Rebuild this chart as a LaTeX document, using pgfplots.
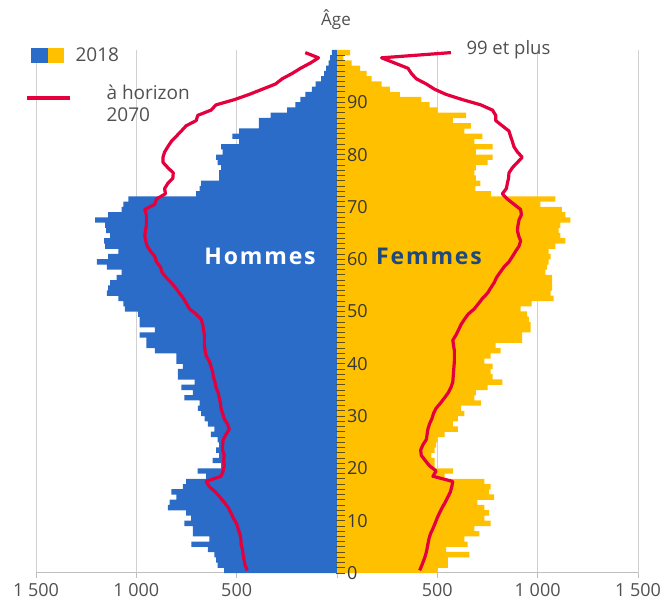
\documentclass[border=0pt]{standalone}
\usepackage{fontspec}
\setmainfont{Open Sans}
\usepackage{pgfplots}
\usepackage{pgfplotstable}
\pgfplotsset{compat=1.18}
\definecolor{hblue}{RGB}{42,108,200}
\definecolor{fyellow}{RGB}{255,192,0}
\definecolor{pred}{RGB}{228,0,60}
\definecolor{fnavy}{RGB}{30,72,128}
\definecolor{txtgray}{RGB}{80,80,80}
\definecolor{tickc}{RGB}{95,80,35}
\pgfplotstableread{
y m f m70 f70
0.5 -562 502 -447 412
1.5 -595 553 -458 423
2.5 -603 553 -463 433
3.5 -611 660 -468 442
4.5 -644 544 -471 448
5.5 -726 651 -478 453
6.5 -636 635 -479 458
7.5 -718 709 -484 466
8.5 -718 684 -493 478
9.5 -760 766 -501 489
10.5 -727 734 -517 499
11.5 -752 758 -529 511
12.5 -843 734 -542 524
13.5 -834 700 -562 539
14.5 -801 783 -583 552
15.5 -826 758 -606 565
16.5 -768 766 -636 572
17.5 -752 734 -652 577
18.5 -652 536 -578 478
19.5 -694 577 -567 494
20.5 -578 486 -562 461
21.5 -620 486 -565 440
22.5 -587 470 -562 420
23.5 -603 486 -570 417
24.5 -587 494 -570 428
25.5 -595 502 -567 445
26.5 -628 536 -553 449
27.5 -611 602 -537 453
28.5 -644 577 -546 461
29.5 -660 602 -562 473
30.5 -677 635 -570 481
31.5 -693 618 -578 494
32.5 -685 717 -581 516
33.5 -760 684 -587 536
34.5 -718 692 -592 555
35.5 -776 750 -603 568
36.5 -710 824 -608 577
37.5 -793 775 -616 579
38.5 -793 766 -620 581
39.5 -768 775 -628 583
40.5 -801 734 -636 585
41.5 -801 766 -652 585
42.5 -908 816 -657 585
43.5 -950 791 -661 581
44.5 -950 923 -661 577
45.5 -983 923 -661 593
46.5 -908 965 -665 606
47.5 -983 965 -669 618
48.5 -983 956 -677 635
49.5 -991 948 -702 654
50.5 -1057 915 -735 684
51.5 -1065 970 -750 705
52.5 -1090 1080 -765 725
53.5 -1147 1064 -785 750
54.5 -1140 1072 -804 766
55.5 -1131 1072 -826 783
56.5 -1098 1072 -851 795
57.5 -1073 1039 -872 813
58.5 -1147 1047 -880 832
59.5 -1197 1055 -900 857
60.5 -1140 1064 -908 874
61.5 -1090 1055 -929 890
62.5 -1156 1088 -946 907
63.5 -1160 1138 -953 915
64.5 -1130 1113 -958 905
65.5 -1150 1105 -954 899
66.5 -1156 1113 -950 902
67.5 -1205 1163 -950 907
68.5 -1140 1138 -950 919
69.5 -1073 1121 -958 915
70.5 -1065 1014 -908 882
71.5 -1040 1088 -900 849
72.5 -702 768 -855 824
73.5 -685 690 -859 844
74.5 -677 714 -843 849
75.5 -587 692 -818 855
76.5 -587 684 -816 857
77.5 -578 692 -843 874
78.5 -595 750 -867 899
79.5 -603 775 -867 923
80.5 -570 692 -859 899
81.5 -578 775 -843 882
82.5 -488 684 -826 874
83.5 -521 725 -801 865
84.5 -488 635 -776 857
85.5 -389 667 -752 824
86.5 -389 577 -702 791
87.5 -331 643 -694 791
88.5 -248 502 -628 775
89.5 -207 461 -603 717
90.5 -183 420 -512 626
91.5 -158 313 -438 544
92.5 -125 263 -372 486
93.5 -106 222 -306 445
94.5 -79 173 -273 395
95.5 -64 148 -224 371
96.5 -54 115 -182 354
97.5 -42 73 -133 288
98.5 -34 32 -92 222
99.5 -26 65 -158 568
}\pyr
\begin{document}
\begin{tikzpicture}[x=1pt,y=1pt]
\useasboundingbox (0,0) rectangle (666,601);
\begin{axis}[at={(36pt,28pt)}, anchor=south west, scale only axis,
  width=602pt, height=523pt,
  xmin=-1500, xmax=1500, ymin=0, ymax=100,
  axis x line=bottom, axis y line=none,
  x axis line style={-, draw=black!25, line width=1pt},
  xtick={-1500,-1000,-500,0,500,1000,1500},
  xticklabels={1 500,1 000,500,,500,1 000,1 500},
  xtick align=outside, major tick length=5pt,
  x tick style={draw=black!25, line width=1pt},
  xmajorgrids, grid style={draw=black!18, line width=1pt},
  xticklabel style={font=\fontsize{18}{20}\selectfont, text=txtgray, yshift=-2pt},
  clip=false]
\addplot[xbar, bar shift=0pt, bar width=1.03, fill=hblue, draw=none] table[x=m, y=y] {\pyr};
\addplot[xbar, bar shift=0pt, bar width=1.03, fill=fyellow, draw=none] table[x=f, y=y] {\pyr};
\addplot[pred, line width=3.2pt, line join=round] table[x=m70, y=y] {\pyr};
\addplot[pred, line width=3.2pt, line join=round] table[x=f70, y=y] {\pyr};
\end{axis}
\begin{axis}[at={(36pt,28pt)}, anchor=south west, scale only axis,
  width=300pt, height=523pt,
  xmin=-1500, xmax=0, ymin=0, ymax=100,
  axis x line=none, axis y line=right,
  y axis line style={-, draw=none},
  ytick={0,10,...,90}, minor ytick={1,...,99},
  ytick align=outside, major tick length=9pt, minor tick length=9pt,
  y tick style={draw=tickc, line width=0.8pt},
  every minor tick/.append style={draw=tickc, line width=0.8pt},
  yticklabel style={font=\fontsize{18}{20}\selectfont, text=black!78, anchor=west, xshift=-1.5pt},
  /pgf/number format/assume math mode=true,
  clip=false]
\addplot[draw=none] coordinates {(0,0)};
\end{axis}
% titles and legend
\node[text=txtgray, font=\fontsize{17}{20}\selectfont] at (336,581) {Âge};
\node[text=txtgray, font=\fontsize{18.5}{20}\selectfont, anchor=west] at (463,551) {99 et plus};
\node[text=white, font=\bfseries\fontsize{23}{26}\selectfont\addfontfeatures{LetterSpace=8}] at (260,345) {Hommes};
\node[text=fnavy, font=\bfseries\fontsize{23}{26}\selectfont\addfontfeatures{LetterSpace=8}] at (429,345) {Femmes};
\fill[hblue] (31,538) rectangle (47.7,553);
\fill[fyellow] (47.7,538) rectangle (64.3,553);
\node[text=txtgray, font=\fontsize{19}{22}\selectfont, anchor=west] at (72,546) {2018};
\draw[pred, line width=3.2pt] (27,503) -- (70,503);
\node[text=txtgray, font=\fontsize{19}{22}\selectfont, anchor=west] at (103,509) {à horizon};
\node[text=txtgray, font=\fontsize{19}{22}\selectfont, anchor=west] at (103,486) {2070};
\end{tikzpicture}
\end{document}
